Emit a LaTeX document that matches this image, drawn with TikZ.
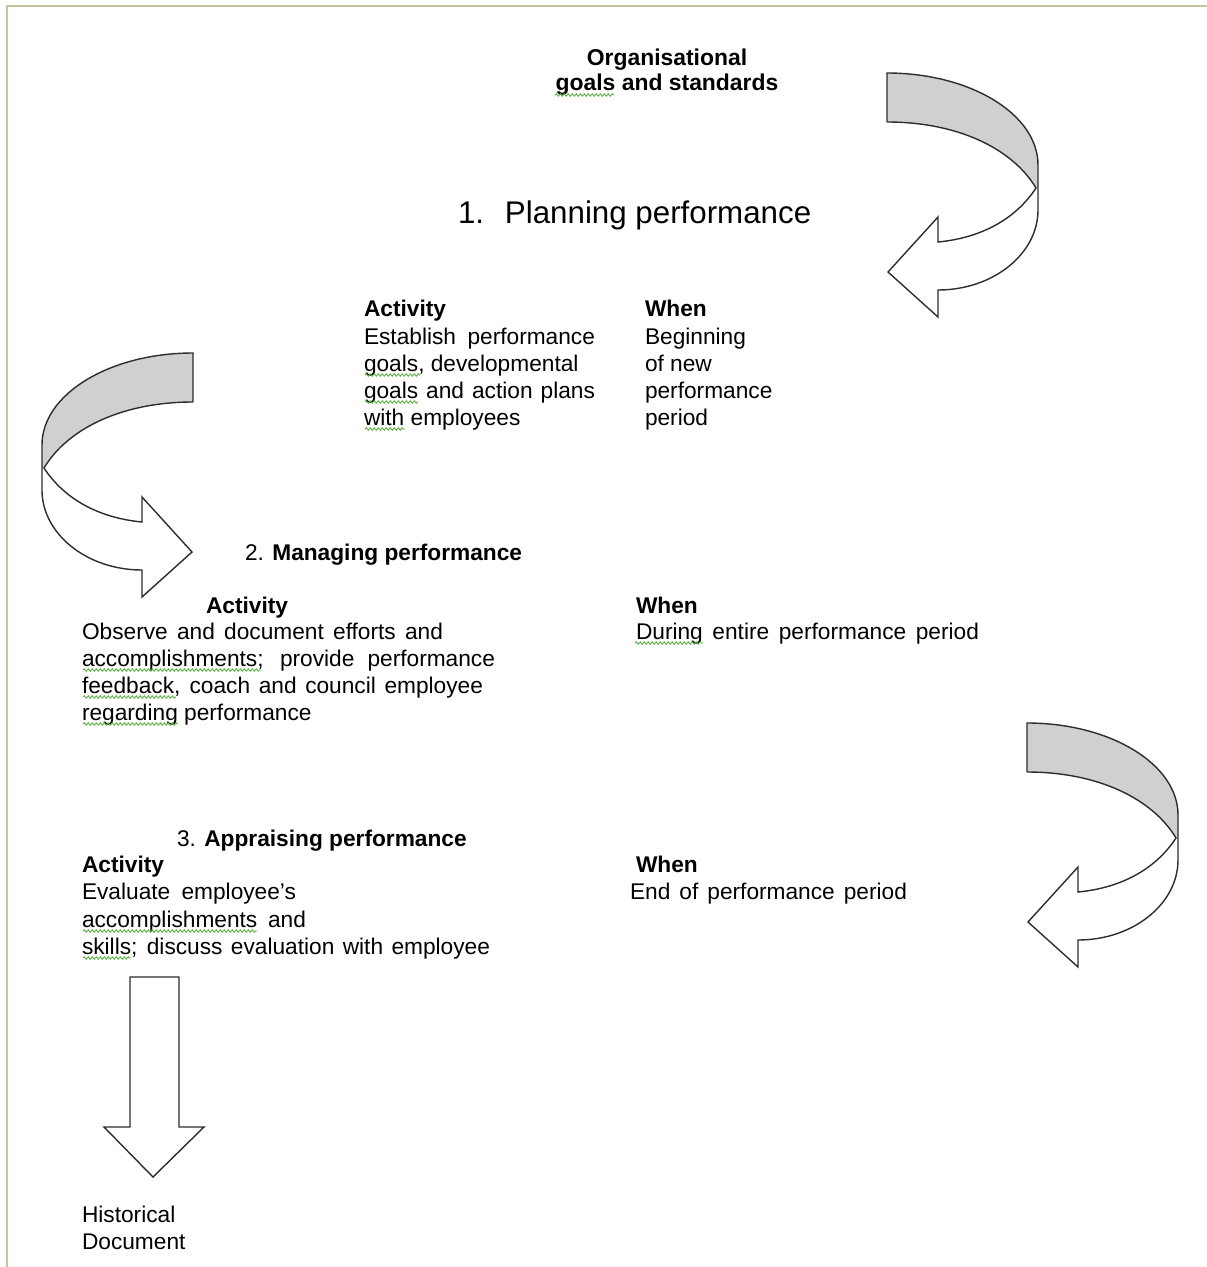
\documentclass[tikz,border=0pt]{standalone}
\usepackage{fontspec}
\setmainfont{Liberation Sans}
\usetikzlibrary{decorations.pathmorphing}
\definecolor{bandgray}{RGB}{208,208,208}
\definecolor{edgegray}{RGB}{45,45,45}
\definecolor{framec}{RGB}{200,194,158}
\definecolor{sqgreen}{RGB}{95,175,70}
\tikzset{
  txt/.style={anchor=base west, inner sep=0pt, outer sep=0pt, font=\fontsize{22.7}{27}\selectfont, text=black},
  btxt/.style={txt, font=\fontsize{22.7}{27}\selectfont\bfseries},
  bigtxt/.style={anchor=base west, inner sep=0pt, outer sep=0pt, font=\fontsize{31.3}{36}\selectfont, text=black},
  ctxt/.style={anchor=base, inner sep=0pt, outer sep=0pt, font=\fontsize{22.9}{27}\selectfont\bfseries, text=black},
  arrowline/.style={draw=edgegray, line width=1.4pt, line join=miter},
  squig/.style={draw=sqgreen, line width=0.9pt, decorate, decoration={snake, amplitude=1.2pt, segment length=4pt}},
}
\newcommand\ribbonarrow{%
  \fill[bandgray] (0,0) .. controls (83,0) and (151,41) .. (151,92) -- (151,115) -- (149,115)
     .. controls (125,75) and (70,49) .. (0,49) -- cycle;
  \draw[arrowline] (0,49) -- (0,0) .. controls (83,0) and (151,41) .. (151,92) -- (151,137)
     .. controls (151,181) and (106,217) .. (51,217) -- (51,244) -- (1,199) -- (51,144) -- (51,169)
     .. controls (93,165) and (128,147) .. (149,115) .. controls (125,75) and (70,49) .. (0,49);
}
\begin{document}
\begin{tikzpicture}[x=1pt,y=-1pt]
\useasboundingbox (0,0) rectangle (1207,1267);
\fill[white] (0,0) rectangle (1207,1267);
% frame
\draw[framec, line width=2.4pt] (7,1267) -- (7,6) -- (1207,6);

% curved arrows
\begin{scope}[shift={(887,73)}]\ribbonarrow\end{scope}
\begin{scope}[shift={(193,353)}, xscale=-1]\ribbonarrow\end{scope}
\begin{scope}[shift={(1027,723)}]\ribbonarrow\end{scope}

% straight down arrow
\draw[arrowline] (130,977) -- (179,977) -- (179,1127) -- (204,1127) -- (153,1177) -- (104,1127) -- (130,1127) -- cycle;

% Organisational goals
\node[ctxt] (org1) at (667,65) {Organisational};
\node[ctxt] (org2) at (667,90) {goals and standards};

% 1. Planning performance
\node[bigtxt] (plan) at (458,223) {\makebox[47pt][l]{1.}Planning performance};
\node[btxt] (pact) at (364,316) {Activity};
\node[txt] (pa1) at (364,344) {\hbox to 231pt{Establish performance}};
\node[txt] (pa2) at (364,371) {goals, developmental};
\node[txt] (pa3) at (364,398) {\hbox to 231pt{goals and action plans}};
\node[txt] (pa4) at (364,425) {with employees};
\node[btxt] (pwhen) at (645,316) {When};
\node[txt] (pw1) at (645,344) {Beginning};
\node[txt] (pw2) at (645,371) {of new};
\node[txt] (pw3) at (645,398) {performance};
\node[txt] (pw4) at (645,425) {period};

% 2. Managing performance
\node[txt] (man) at (245,560) {2. \textbf{Managing performance}};
\node[btxt] (mact) at (206,613) {Activity};
\node[txt] (ma1) at (82,639) {\hbox to 361pt{Observe and document efforts and}};
\node[txt] (ma2) at (82,666) {\hbox to 413pt{accomplishments; provide performance}};
\node[txt] (ma3) at (82,693) {\hbox to 401pt{feedback, coach and council employee}};
\node[txt] (ma4) at (82,720) {regarding performance};
\node[btxt] (mwhen) at (636,613) {When};
\node[txt] (mw1) at (636,639) {\hbox to 343pt{During entire performance period}};

% 3. Appraising performance
\node[txt] (app) at (177,846) {3. \textbf{Appraising performance}};
\node[btxt] (aact) at (82,872) {Activity};
\node[txt] (aa1) at (82,899) {\hbox to 214pt{Evaluate employee’s}};
\node[txt] (aa2) at (82,927) {\hbox to 224pt{accomplishments and}};
\node[txt] (aa3) at (82,954) {\hbox to 408pt{skills; discuss evaluation with employee}};
\node[btxt] (awhen) at (636,872) {When};
\node[txt] (aw1) at (630,899) {\hbox to 277pt{End of performance period}};

% Historical document
\node[txt] (hist1) at (82,1222) {Historical};
\node[txt] (hist2) at (82,1249) {Document};

% spell-check squiggles
\draw[squig] (555,95) -- (614,95);
\draw[squig] (365,375) -- (420,375);
\draw[squig] (365,402) -- (418,402);
\draw[squig] (365,429) -- (405,429);
\draw[squig] (83,670) -- (261,670);
\draw[squig] (83,697) -- (176,697);
\draw[squig] (83,724) -- (178,724);
\draw[squig] (635,643) -- (703,643);
\draw[squig] (83,931) -- (257,931);
\draw[squig] (83,958) -- (131,958);
\end{tikzpicture}
\end{document}
